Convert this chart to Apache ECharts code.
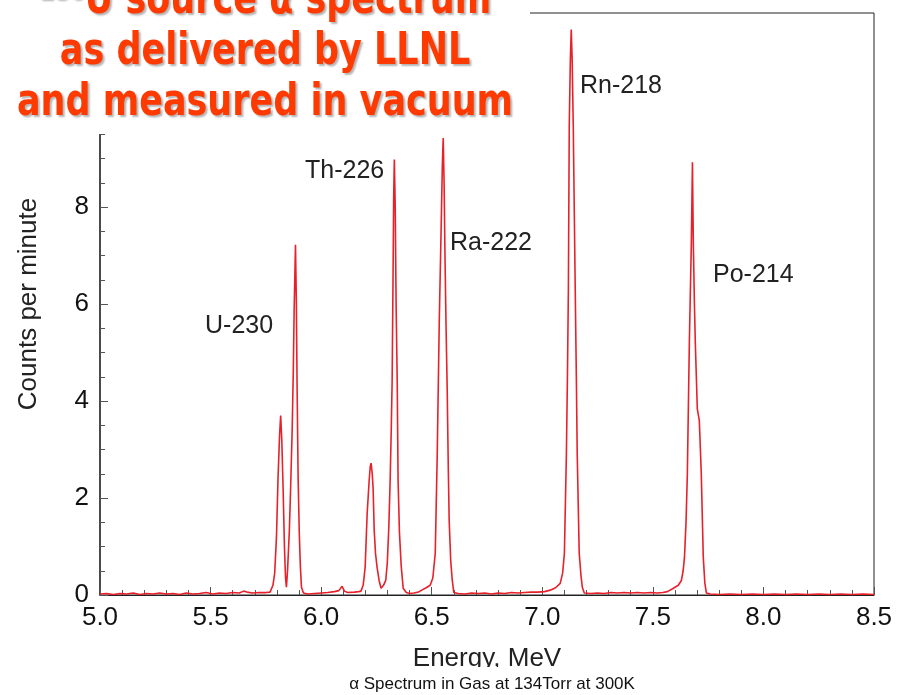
<!DOCTYPE html>
<html>
<head>
<meta charset="utf-8">
<script src="https://cdn.jsdelivr.net/npm/echarts@6/dist/echarts.min.js"></script>
<style>
html,body{margin:0;padding:0;background:#fff;}
#chart{width:911px;height:695px;}
</style>
</head>
<body>
<div id="chart"></div>
<script>
// Energy (MeV) and counts per minute
const energy = [
5.000,5.030,5.060,5.090,5.120,5.150,5.180,5.210,5.240,5.270,5.300,5.330,5.360,5.390,5.420,5.450,5.480,5.510,5.540,5.570,
5.600,5.630,5.650,5.665,5.690,5.720,5.750,5.769,5.782,5.790,5.798,5.805,5.812,5.817,5.822,5.828,5.834,5.839,5.843,5.848,
5.856,5.862,5.869,5.874,5.878,5.884,5.888,5.891,5.896,5.901,5.906,5.911,5.920,5.940,5.970,6.000,6.030,6.060,6.080,6.095,
6.105,6.120,6.150,6.170,6.180,6.190,6.199,6.208,6.217,6.222,6.226,6.231,6.235,6.240,6.246,6.253,6.262,6.271,6.282,6.292,
6.299,6.306,6.312,6.317,6.321,6.325,6.328,6.331,6.335,6.339,6.344,6.348,6.354,6.362,6.371,6.385,6.400,6.420,6.440,6.455,
6.475,6.493,6.505,6.516,6.525,6.534,6.543,6.548,6.552,6.556,6.560,6.565,6.570,6.575,6.579,6.586,6.593,6.600,6.620,6.650,
6.680,6.710,6.740,6.770,6.800,6.830,6.860,6.890,6.920,6.950,6.980,7.010,7.036,7.060,7.081,7.092,7.100,7.109,7.114,7.118,
7.122,7.127,7.131,7.135,7.140,7.145,7.149,7.154,7.158,7.167,7.175,7.181,7.190,7.220,7.250,7.280,7.310,7.340,7.370,7.400,
7.430,7.460,7.490,7.520,7.545,7.566,7.593,7.615,7.629,7.637,7.643,7.650,7.656,7.665,7.674,7.679,7.683,7.688,7.692,7.701,
7.710,7.715,7.719,7.728,7.735,7.742,7.760,7.800,7.850,7.900,7.950,8.000,8.050,8.100,8.150,8.200,8.250,8.300,8.350,8.400,
8.450,8.500
];
const counts = [
0.02,0.03,0.01,0.03,0.02,0.04,0.01,0.03,0.02,0.04,0.02,0.03,0.01,0.04,0.02,0.03,0.05,0.02,0.04,0.03,
0.05,0.04,0.08,0.06,0.04,0.05,0.05,0.06,0.2,0.45,1.2,2.4,3.3,3.7,3.2,2.2,1.0,0.35,0.16,0.5,
1.3,2.2,3.4,4.6,5.9,7.22,6.0,4.4,2.4,1.3,0.6,0.16,0.04,0.02,0.03,0.04,0.05,0.07,0.09,0.18,
0.08,0.05,0.06,0.07,0.08,0.2,0.57,1.67,2.35,2.65,2.72,2.5,2.2,1.33,0.85,0.57,0.3,0.14,0.2,0.3,
0.65,1.4,2.35,3.4,4.4,6.5,8.2,8.98,8.0,6.0,4.4,2.35,1.3,0.6,0.14,0.05,0.03,0.04,0.06,0.1,
0.15,0.2,0.35,0.86,2.9,5.6,7.65,8.85,9.42,8.5,7.0,5.5,4.25,2.6,1.53,0.7,0.3,0.05,0.03,0.02,
0.04,0.03,0.04,0.02,0.04,0.03,0.05,0.04,0.05,0.06,0.06,0.07,0.1,0.15,0.24,0.45,0.86,2.9,4.6,6.3,
9.7,11.05,11.66,11.05,9.7,7.8,6.3,4.5,2.9,0.86,0.4,0.16,0.04,0.03,0.04,0.03,0.05,0.04,0.05,0.04,
0.05,0.04,0.05,0.04,0.05,0.07,0.14,0.2,0.3,0.5,0.78,1.5,2.5,5.2,7.25,8.92,7.25,6.0,5.2,3.84,
3.6,3.0,2.5,0.78,0.25,0.04,0.02,0.01,0.02,0.01,0.02,0.01,0.02,0.01,0.02,0.01,0.02,0.01,0.02,0.01,
0.02,0.01
];
const peakLabels = ['U-230','Th-226','Ra-222','Rn-218','Po-214'];
const titleLines = ['\u00B2\u00B3\u2070U source \u03B1 spectrum','as delivered by LLNL','and measured in vacuum'];
const xName = 'Energy, MeV';
const yName = 'Counts per minute';
const caption = '\u03B1 Spectrum in Gas at 134Torr at 300K';

const data = energy.map((e, i) => [e, counts[i]]);
const FONT = '"Liberation Sans", Arial, sans-serif';
const labelPos = [[205,326],[305,171],[450,243],[580,86],[713,275]];
const titleY = [24,75,126];

const chart = echarts.init(document.getElementById('chart'));
const graphics = [
  {type:'rect', z:100, shape:{x:0,y:0,width:530,height:134}, style:{fill:'#fff'}},
  {type:'rect', z:100, shape:{x:0,y:667,width:911,height:28}, style:{fill:'#fff'}}
];
titleLines.forEach((t, i) => {
  graphics.push({type:'text', z:101, x:265, y:titleY[i], scaleY:1.25,
    style:{text:t, x:0, y:0, textAlign:'center', textVerticalAlign:'bottom', align:'center', verticalAlign:'bottom',
      fill:'#ff3a00', font:'bold 35px "DejaVu Sans", sans-serif',
      textShadowColor:'rgba(0,0,0,0.3)', textShadowBlur:2, textShadowOffsetX:2, textShadowOffsetY:2}});
});
peakLabels.forEach((t, i) => {
  graphics.push({type:'text', z:101, x:labelPos[i][0], y:labelPos[i][1],
    style:{text:t, x:0, y:0, textAlign:'left', textVerticalAlign:'middle', align:'left', verticalAlign:'middle',
      fill:'#222', font:'25px ' + FONT}});
});
graphics.push({type:'text', z:102, x:492, y:684,
  style:{text:caption, x:0, y:0, textAlign:'center', textVerticalAlign:'middle', align:'center', verticalAlign:'middle',
    fill:'#111', font:'17px ' + FONT}});

chart.setOption({
  animation:false,
  backgroundColor:'#fff',
  grid:{left:100, right:37, top:8, bottom:100, show:true, borderColor:'#222', borderWidth:1, backgroundColor:'transparent'},
  xAxis:{
    type:'value', min:5, max:8.5, interval:0.5,
    name:xName, nameLocation:'middle', nameGap:51,
    nameTextStyle:{fontSize:26, color:'#222', fontFamily:FONT},
    axisLine:{lineStyle:{color:'#222', width:1}},
    axisTick:{inside:true, length:8, lineStyle:{color:'#555'}},
    minorTick:{show:true, splitNumber:5, length:5, lineStyle:{color:'#555'}},
    splitLine:{show:false},
    axisLabel:{fontSize:26, color:'#111', fontFamily:FONT, margin:10, formatter:v => v.toFixed(1)}
  },
  yAxis:{
    type:'value', min:0, max:12, interval:2,
    name:yName, nameLocation:'middle', nameGap:58,
    nameTextStyle:{fontSize:26, color:'#222', fontFamily:FONT},
    axisLine:{lineStyle:{color:'#333', width:1.5}},
    axisTick:{inside:true, length:8, lineStyle:{color:'#555'}},
    minorTick:{show:true, splitNumber:4, length:5, lineStyle:{color:'#555'}},
    splitLine:{show:false},
    axisLabel:{fontSize:26, color:'#111', fontFamily:FONT, margin:11}
  },
  series:[{
    type:'line', data:data, showSymbol:false, smooth:false, z:5,
    lineStyle:{color:'#e8202a', width:1.6}
  }],
  graphic:graphics
});
</script>
</body>
</html>
